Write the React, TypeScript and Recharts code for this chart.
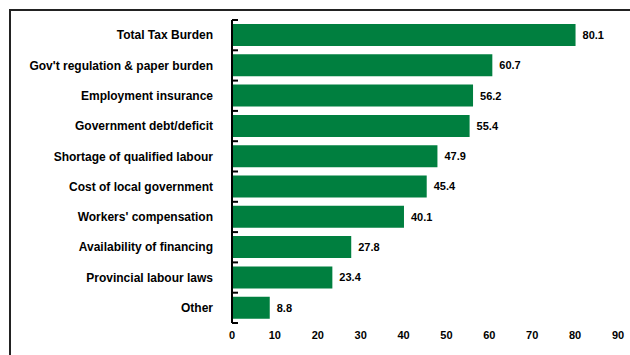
import { Bar, BarChart, LabelList, XAxis, YAxis } from "recharts";

const categories = [
  "Total Tax Burden",
  "Gov't regulation & paper burden",
  "Employment insurance",
  "Government debt/deficit",
  "Shortage of qualified labour",
  "Cost of local government",
  "Workers' compensation",
  "Availability of financing",
  "Provincial labour laws",
  "Other",
];
const values = [80.1, 60.7, 56.2, 55.4, 47.9, 45.4, 40.1, 27.8, 23.4, 8.8];
const xTicks = [0, 10, 20, 30, 40, 50, 60, 70, 80, 90];

const data = categories.map((name, i) => ({ name, value: values[i] }));

const W = 630;
const H = 355;
const TOP = 20;
const XAXIS_H = 32;
const YAXIS_W = 232;
const band = (H - TOP - XAXIS_H) / categories.length;
const font = "Arial, 'Liberation Sans', sans-serif";

const CategoryTick = ({ y, payload, index }: any) => {
  const ax = YAXIS_W;
  return (
    <g>
      <text
        x={213}
        y={y}
        dy="0.35em"
        textAnchor="end"
        fontSize={12}
        fontWeight="bold"
        fontFamily={font}
        fill="#000"
      >
        {payload.value}
      </text>
      <line x1={ax} x2={ax + 6} y1={y - band / 2} y2={y - band / 2} stroke="#000" strokeWidth={2} />
      {index === categories.length - 1 && (
        <line x1={ax} x2={ax + 6} y1={y + band / 2} y2={y + band / 2} stroke="#000" strokeWidth={2} />
      )}
    </g>
  );
};

const App = () => {
  return (
    <div style={{ position: "absolute", left: 0, top: 0, width: W, height: H, background: "#fff" }}>
      <div
        style={{
          position: "absolute",
          left: 9,
          top: 9,
          width: W,
          height: H,
          borderTop: "2px solid #222",
          borderLeft: "2px solid #222",
        }}
      />
      <div style={{ position: "absolute", left: 0, top: 0 }}>
        <BarChart
          width={W}
          height={H}
          data={data}
          layout="vertical"
          margin={{ top: TOP, right: 12, bottom: 0, left: 0 }}
        >
          <XAxis
            type="number"
            domain={[0, 90]}
            ticks={xTicks}
            axisLine={false}
            tickLine={false}
            tickSize={0}
            tickMargin={8}
            height={XAXIS_H}
            interval={0}
            tick={{ fontSize: 11, fontWeight: "bold", fill: "#000", fontFamily: font }}
          />
          <YAxis
            type="category"
            dataKey="name"
            width={YAXIS_W}
            axisLine={{ stroke: "#000", strokeWidth: 2 }}
            tickLine={false}
            interval={0}
            tick={<CategoryTick />}
          />
          <Bar dataKey="value" fill="#007F3F" barSize={22} isAnimationActive={false}>
            <LabelList
              dataKey="value"
              position="right"
              offset={7}
              fontSize={11}
              fontWeight="bold"
              fill="#000"
              fontFamily={font}
            />
          </Bar>
        </BarChart>
      </div>
    </div>
  );
};

export default App;
